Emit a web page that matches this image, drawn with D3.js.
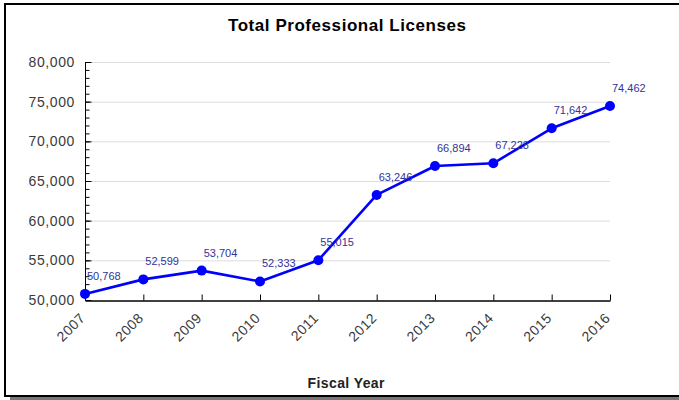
<!DOCTYPE html>
<html>
<head>
<meta charset="utf-8">
<script src="https://cdn.jsdelivr.net/npm/d3@7"></script>
<style>
  html, body { margin: 0; padding: 0; background: #fff; }
  svg { display: block; font-family: "Liberation Sans", Arial, sans-serif; }
</style>
</head>
<body>
<script>
const years = ["2007","2008","2009","2010","2011","2012","2013","2014","2015","2016"];
const licenses = [50768, 52599, 53704, 52333, 55015, 63246, 66894, 67228, 71642, 74462];
const yTicks = [50000, 55000, 60000, 65000, 70000, 75000, 80000];
const chartTitle = "Total Professional Licenses";
const xTitle = "Fiscal Year";

const W = 679, H = 400;
const plotL = 85, plotR = 610, plotT = 62, plotB = 300;

const svg = d3.select("body").append("svg").attr("width", W).attr("height", H);

// frame + shadow
svg.append("rect").attr("x", 10).attr("y", 397).attr("width", W).attr("height", 3).attr("fill", "#777");
svg.append("rect").attr("x", 5).attr("y", 4).attr("width", W + 10).attr("height", 392)
  .attr("fill", "#fff").attr("stroke", "#000").attr("stroke-width", 2);

const x = d3.scalePoint().domain(years).range([plotL, plotR]);
const y = d3.scaleLinear().domain([50000, 80000]).range([plotB, plotT]);
const fmt = d3.format(",");

// gridlines
svg.append("g").selectAll("line").data(yTicks.slice(1)).join("line")
  .attr("x1", plotL).attr("x2", plotR)
  .attr("y1", d => y(d) + 0.5).attr("y2", d => y(d) + 0.5)
  .attr("stroke", "#dcdcdc").attr("stroke-width", 1);

// y axis minor ticks (inside)
const minor = d3.range(50000, 80001, 1000);
const yMinor = svg.append("g").attr("transform", `translate(${plotL + 0.5},0)`)
  .call(d3.axisRight(y).tickValues(minor).tickSize(4).tickFormat(""));
yMinor.select(".domain").remove();
yMinor.selectAll("line").attr("stroke", "#000");

// y axis major
const yAx = svg.append("g").attr("transform", `translate(${plotL + 0.5},0)`)
  .call(d3.axisRight(y).tickValues(yTicks).tickSize(6).tickFormat(""));
yAx.select(".domain").attr("stroke", "#000").attr("d", `M0,${plotT}V${plotB}`);
yAx.selectAll("line").attr("stroke", "#000");

// y labels
svg.append("g").selectAll("text").data(yTicks).join("text")
  .attr("x", 75).attr("y", d => y(d) + 5)
  .attr("text-anchor", "end").attr("font-size", 14).attr("letter-spacing", 0.6).attr("fill", "#3a3a3a")
  .text(d => fmt(d));

// x axis
const xAx = svg.append("g").attr("transform", `translate(0,${plotB + 0.5})`)
  .call(d3.axisTop(x).tickSize(6).tickSizeOuter(0).tickFormat(""));
xAx.select(".domain").attr("stroke", "#000").attr("stroke-width", 1.5);
xAx.selectAll("line").attr("stroke", "#000");

// x labels rotated
svg.append("g").selectAll("text").data(years).join("text")
  .attr("transform", d => `translate(${x(d) + 1},${plotB + 19}) rotate(-45)`)
  .attr("text-anchor", "end").attr("font-size", 14).attr("letter-spacing", 0.5).attr("fill", "#3a3a3a")
  .text(d => d);

// line
const line = d3.line().x((d, i) => x(years[i])).y(d => y(d));
svg.append("path").datum(licenses).attr("d", line)
  .attr("fill", "none").attr("stroke", "#0000ff").attr("stroke-width", 2.6)
  .attr("stroke-linejoin", "round");

// markers
svg.append("g").selectAll("circle").data(licenses).join("circle")
  .attr("cx", (d, i) => x(years[i])).attr("cy", d => y(d)).attr("r", 5)
  .attr("fill", "#0000ff");

// value labels
svg.append("g").selectAll("text").data(licenses).join("text")
  .attr("x", (d, i) => x(years[i]) + 2).attr("y", d => y(d) - 14)
  .attr("font-size", 11).attr("fill", "#333399")
  .text(d => fmt(d));

// titles
svg.append("text").attr("x", 347).attr("y", 31).attr("text-anchor", "middle")
  .attr("font-size", 17).attr("font-weight", "bold").attr("fill", "#000")
  .attr("textLength", 238).attr("lengthAdjust", "spacing").text(chartTitle);
svg.append("text").attr("x", 346).attr("y", 388).attr("text-anchor", "middle")
  .attr("font-size", 14).attr("font-weight", "bold").attr("fill", "#222")
  .attr("textLength", 77).attr("lengthAdjust", "spacing").text(xTitle);
</script>
</body>
</html>
